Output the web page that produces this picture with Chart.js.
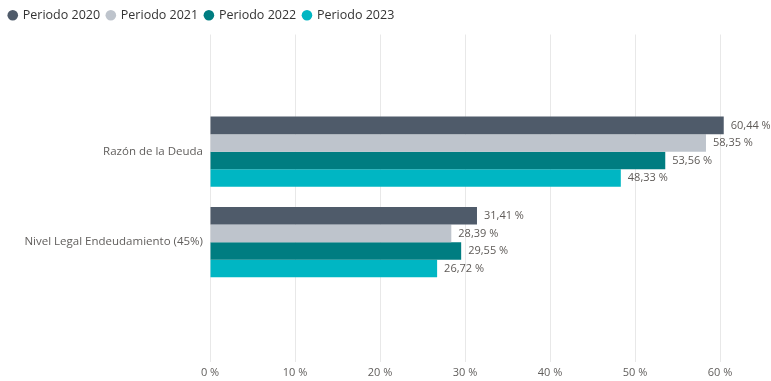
<!DOCTYPE html>
<html>
<head>
<meta charset="utf-8">
<script src="https://cdn.jsdelivr.net/npm/chart.js@4.4.0/dist/chart.umd.min.js"></script>
<style>
  html, body { margin: 0; padding: 0; background: #ffffff; }
  #wrap { position: relative; width: 771px; height: 381px; }
</style>
</head>
<body>
<div id="wrap"><canvas id="c" width="771" height="381"></canvas></div>
<script>
const categories = ['Razón de la Deuda', 'Nivel Legal Endeudamiento (45%)'];
const seriesNames = ['Periodo 2020', 'Periodo 2021', 'Periodo 2022', 'Periodo 2023'];
const periodo2020 = [60.44, 31.41];
const periodo2021 = [58.35, 28.39];
const periodo2022 = [53.56, 29.55];
const periodo2023 = [48.33, 26.72];
const xTicks = [0, 10, 20, 30, 40, 50, 60];
const colors = ['#4F5B6A', '#BEC4CC', '#007D81', '#00B6C3'];

const seriesValues = [periodo2020, periodo2021, periodo2022, periodo2023];
const FONT = "'Open Sans', 'Noto Sans', sans-serif";

function fmt(v) { return v.toFixed(2).replace('.', ',') + ' %'; }

const valueLabels = {
  id: 'valueLabels',
  afterDatasetsDraw(chart) {
    const ctx = chart.ctx;
    ctx.save();
    ctx.font = '11px ' + FONT;
    ctx.fillStyle = '#5E5A57';
    ctx.textBaseline = 'middle';
    ctx.textAlign = 'left';
    chart.data.datasets.forEach((ds, di) => {
      const meta = chart.getDatasetMeta(di);
      meta.data.forEach((el, i) => {
        ctx.fillText(fmt(ds.data[i].x), el.x + 7, el.y);
      });
    });
    ctx.restore();
  }
};

const legendMargin = {
  id: 'legendMargin',
  beforeInit(chart) {
    const lg = chart.legend;
    if (!lg) return;
    const origFit = lg.fit;
    lg.fit = function () {
      origFit.call(this);
      this.height += 3;
    };
  }
};

new Chart(document.getElementById('c'), {
  type: 'bar',
  data: {
    datasets: seriesNames.map((name, s) => ({
      label: name,
      data: seriesValues[s].map((v, i) => ({ x: v, y: i })),
      backgroundColor: colors[s],
      borderWidth: 0,
      barPercentage: 1,
      categoryPercentage: 0.775
    }))
  },
  options: {
    indexAxis: 'y',
    responsive: false,
    animation: false,
    layout: { padding: { top: 2, right: 0, bottom: 0, left: 2 } },
    plugins: {
      tooltip: { enabled: false },
      legend: {
        position: 'top',
        align: 'start',
        labels: {
          usePointStyle: true,
          pointStyle: 'circle',
          boxWidth: 7.5,
          boxHeight: 7.5,
          padding: 7,
          color: '#333333',
          font: { family: FONT, size: 12.5 }
        }
      }
    },
    scales: {
      x: {
        type: 'linear',
        min: 0,
        max: 66,
        afterBuildTicks(scale) { scale.ticks = xTicks.map(v => ({ value: v })); },
        afterFit(scale) { scale.height = 19; },
        ticks: {
          padding: 4,
          color: '#605E5C',
          font: { family: FONT, size: 11 },
          callback: v => v + ' %'
        },
        grid: { color: '#E8E8E8', drawTicks: false },
        border: { display: false }
      },
      y: {
        type: 'linear',
        reverse: true,
        offset: false,
        min: -1.295,
        max: 2.325,
        afterBuildTicks(scale) { scale.ticks = categories.map((_, i) => ({ value: i })); },
        afterFit(scale) { scale.width = 208; },
        ticks: {
          padding: 7,
          color: '#605E5C',
          font: { family: FONT, size: 11.5 },
          callback: v => categories[v] !== undefined ? categories[v] : ''
        },
        grid: { display: false, drawTicks: false },
        border: { display: false }
      }
    }
  },
  plugins: [legendMargin, valueLabels]
});
</script>
</body>
</html>
